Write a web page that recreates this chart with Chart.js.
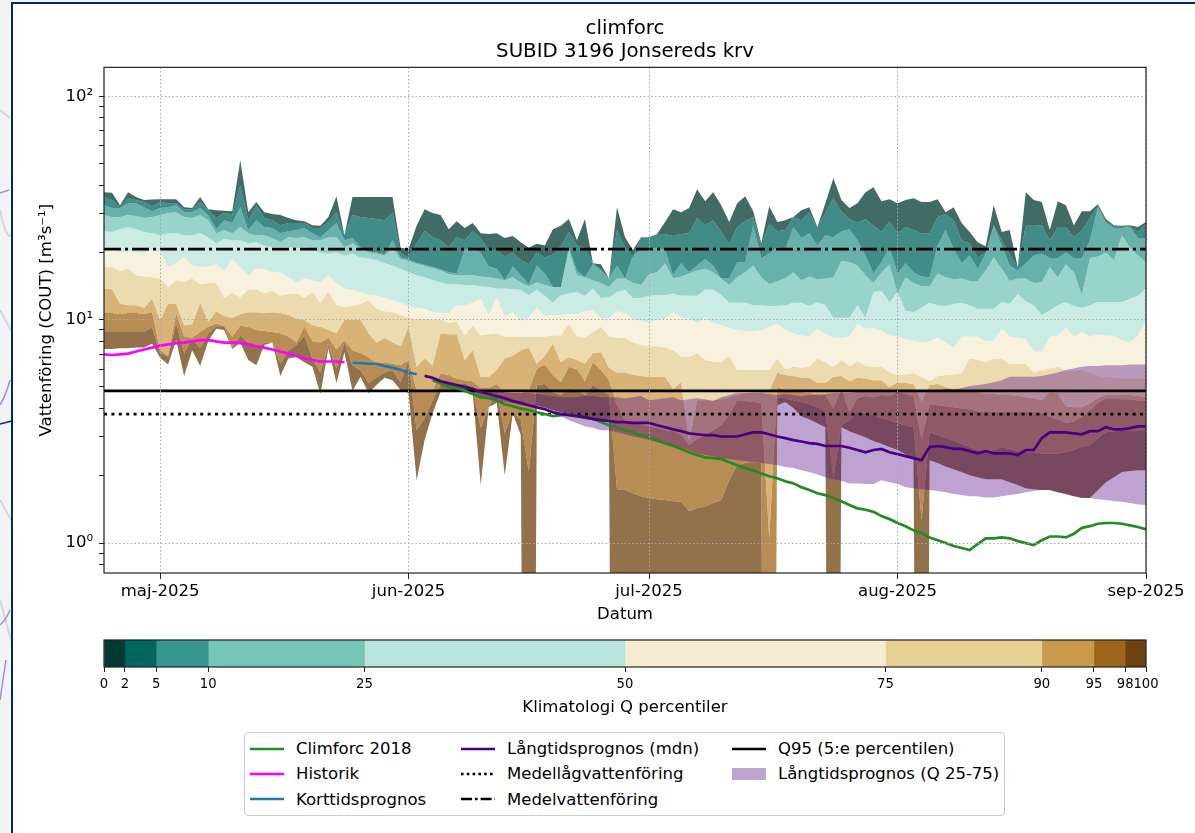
<!DOCTYPE html>
<html>
<head>
<meta charset="utf-8">
<title>climforc</title>
<script src="https://cdn.jsdelivr.net/npm/chart.js@4"></script>
<style>
html, body { margin: 0; padding: 0; background: #f1f3f5; width: 1195px; height: 833px; overflow: hidden; font-family: "DejaVu Sans", sans-serif; }
#page { position: absolute; left: 11px; top: 2px; width: 1184px; height: 831px; box-sizing: border-box; background: #fff; border-left: 2px solid #00296b; border-top: 2px solid #00296b; }
#strip { position: absolute; left: 0; top: 0; }
canvas { position: absolute; left: 0; }
#main { top: 0; }
#cbar { top: 625px; }
#legend { position: absolute; left: 244px; top: 732px; width: 761px; height: 84px; box-sizing: border-box; background: #fff; border: 1px solid #ccc; border-radius: 4px; padding: 3px 0 0 5px; display: grid; grid-template-columns: 211px 271px auto; grid-template-rows: repeat(3, 25.3px); grid-auto-flow: column; font-size: 16.5px; color: #000; }
#legend div { display: flex; align-items: center; white-space: nowrap; }
#legend svg { width: 36px; height: 12px; margin-right: 10px; flex: none; }
</style>
</head>
<body>
<svg id="strip" width="12" height="833">
  <path d="M0 424 L12 421" stroke="#00296b" stroke-width="1.5" fill="none"/>
  <path d="M0 110 L10 118 M0 210 Q6 240 11 235 M0 310 L11 330 M0 500 L11 520 M0 600 L11 640" stroke="#d4d7da" stroke-width="2" fill="none"/>
  <path d="M0 193 L9 190 M0 405 Q6 395 10 380 M0 625 Q6 620 10 610 M0 700 L6 660" stroke="#a98adb" stroke-width="1.5" fill="none"/>
</svg>
<div id="page"></div>
<canvas id="main" width="1195" height="625"></canvas>
<canvas id="cbar" width="1195" height="100"></canvas>
<div id="legend"></div>
<script>
// dagar raknas fran 24 april 2025 (dag 0) till 1 sep (dag 130)
const monthDays = [7, 38, 68, 99, 130];
const monthLabels = ['maj-2025', 'jun-2025', 'jul-2025', 'aug-2025', 'sep-2025'];
const yMajor = [1, 10, 100];
const yMajorLabels = ['10⁰', '10¹', '10²'];
const yTicks = [0.8, 0.9, 1, 2, 3, 4, 5, 6, 7, 8, 9, 10, 20, 30, 40, 50, 60, 70, 80, 90, 100];

// klimatologi percentiler, 0 = ingen avrinning den dagen
const p0 = [
  37.2,37,32.5,37.2,35.4,34.3,34.5,34.6,34.6,34.6,
  31.9,31.6,35.4,31.2,30.9,30.7,30.6,51.7,30.3,33.6,
  30.3,29.7,29.4,28.5,27.9,27.6,26.5,26.3,28.8,35.7,
  23.9,35.4,35.4,35.4,35.4,35.4,35.4,21,20.7,26.3,
  31.2,30,29.4,25.4,27.6,25.7,27.1,24.4,24.2,24.4,
  23.2,23.7,22.2,21,21.9,21.5,25.4,26.3,28.2,22.7,
  28.2,17.9,17.7,15.3,31.9,23.4,20.5,23.4,23.4,24.2,
  27.4,31.2,30.3,31.6,38.4,33.9,37.2,32.5,27.4,33.2,
  35.7,30.6,22,32.2,27.4,27.9,28.8,30.9,31.9,26,
  33.2,43,34.3,31.6,33.2,37.2,39.2,33.9,34.6,33.2,
  34.3,35,33.6,33.6,34.6,30.3,31.9,27.1,24.7,22.2,
  21.3,32.5,24.7,25.2,17.2,37.2,34.3,33.6,25.2,33.9,
  32.5,26.5,30.6,30.6,32.9,28.2,26.5,26.3,26.5,26,27.4];
const p2 = [
  35.4,34.3,31.9,35,34.3,33.6,32.2,33.6,33.2,33.2,
  31.2,31.2,33.6,30.9,28.5,30,29.4,40,27.9,32.5,
  28.5,27.9,26.5,27.1,27.1,27.1,25.7,25.7,27.4,30.3,
  23.9,29.4,28.8,28.5,28.2,27.9,30,19.9,19,22,
  25,23.4,22.7,21.1,23.4,22.7,24.9,23.2,20.5,20.5,
  19.2,20,18.5,17.7,20,19,19.6,21.3,24.7,21.5,
  21,17.9,16.8,15.3,25.2,21.1,19.2,23.2,23.4,24.2,
  24.2,23.7,24.2,24.4,28.5,26.5,27.9,24.7,21.8,26,
  27.6,28.8,21.5,26.8,24.9,25.2,28.8,27.9,30.3,25.7,
  30,35,30.6,28.2,27.1,28.2,26.3,24.7,27.6,24.4,
  26,25.2,24.4,24.4,28.8,29.7,27.9,22.7,22,19,
  20,26.5,22.7,19.6,17.2,26.3,26.3,26.5,22.7,26,
  26,23.4,25.2,28.5,32.2,27.6,26.3,26,26.3,24.7,26.8];
const p5 = [
  32.5,31.6,31.6,33.2,33.2,31.9,30.6,31.6,31.9,32.5,
  30.3,30.3,31.6,29.4,25.4,27.9,27.1,31.9,25.2,27.9,
  26,25.7,24.4,24.9,25.2,25.7,24.4,23.4,25.2,27.1,
  22.7,23.2,21.1,20.2,20,19.6,22.7,19,18.6,18,
  17.6,17.2,16.8,16.3,16.1,20.5,21,20,17.3,16.9,
  15,17.3,15.8,14.4,17.5,16.1,14,14,21.1,16.6,
  15.5,17.7,16.6,15.3,17.5,15.3,19.4,20.5,20.7,21,
  20.5,15.8,17.9,16.3,17.5,18.7,17.5,15.3,15.3,18.1,
  18.1,26.5,18.9,19.8,21.1,20.5,26,23.2,24.4,21.5,
  23.9,23.4,24.9,25.4,22.7,19.4,16.1,18.1,21.1,16.1,
  17.9,16.3,15.6,15.5,21.5,25.2,20.7,17.9,19.4,16.9,
  19.8,26.3,21.5,17.5,16.6,17.9,19.4,19.8,18.9,18.9,
  20,18.9,18.9,22.7,31.9,27.1,25.7,25.7,26,23.2,23.2];
const p10 = [
  29.4,28.8,28.8,29.4,29.1,28.5,28.8,29.4,30,30.3,
  28.8,28.5,29.4,27.9,24.4,25.2,24.4,26,24.4,23.9,
  23.9,23.2,22.2,23.4,23.2,23.4,22.7,22.7,23.4,23.4,
  21.1,22,20.8,20,19.8,19.4,20.9,18.7,18.3,17.8,
  17.4,17,16.6,16,15.8,15.8,15.8,15.6,15.5,15.3,
  15,15.5,14.7,14.1,14.7,14.3,14,14,20.5,15.8,
  15.5,15,14.6,14,15.3,15.3,14.6,14.3,16,16.3,
  17.9,15.3,15.6,16.1,16.6,16.9,16.3,15.3,14.3,15.5,
  16.3,17.5,15.5,14.4,14.9,15.3,16.3,15,15.6,15.2,
  15.3,15.5,18.3,18.1,17.5,15.8,14.6,16.3,17.7,13.1,
  15.5,14.6,14.1,14.1,16.1,15.5,15.2,15.3,14.9,14.9,
  16.6,19,16.9,14.9,15.3,15.3,14.6,14.7,17.2,15.5,
  17.7,16.3,12.9,18.9,19.2,20,18.5,23.9,21,19.4,18.1];
const p25 = [
  24.9,24.7,25.4,26,25.4,24.7,24.4,23.9,24.4,24.4,
  23.9,23.9,24.4,23.4,22,23,22.7,22.7,22,22.2,
  21.5,21.1,21.1,21.1,20.9,21.1,20.5,20,19.8,20,
  19.4,19.8,19,18.8,18.5,17.9,17.5,16.9,16.3,15.8,
  15.5,15,14.7,14.4,14.4,14.3,14.3,14.1,14,13.8,
  13.8,13.7,13.6,12.9,13.6,12.8,11.9,12.9,13.1,13.3,
  12.8,13.8,12.5,12.6,13.3,13.6,12.5,12.5,12.8,12.9,
  12.9,13.1,12.8,12.8,12.8,13.6,13.6,12.9,11.9,11.9,
  11.9,11.6,11.6,11.5,11.5,11.6,11.9,11.9,11.5,12,
  11.6,10.2,10.2,10.2,11.6,10.2,13.3,13.4,12,13.3,
  11,10.8,11.3,11.9,11.6,11.5,11.8,11.9,11.6,11.2,
  11.2,11.2,12,11.8,13,12.1,11.6,10.5,11,11.6,
  12,11.5,11.3,11.6,12,12,12,12,12.4,12.8,13.8];
const p50 = [
  20.5,21,20,20.2,20,19.8,20.5,20.2,17.3,17.9,
  19.2,17.5,17.2,17.3,17.7,16.5,18.7,17.2,15.8,16.9,
  16.9,16.3,16.3,15.5,14.7,15.3,15,14.7,15.8,14.6,
  13.8,13.6,13.3,12.9,12.8,12.5,12.2,11.9,11.5,11.3,
  11.2,10.8,10.7,10.7,11.6,11.6,11.9,12.5,10.5,12.6,
  10.4,10.8,9.9,10.2,11.3,10.4,10.5,10.5,10.6,10.6,
  10.9,11,10.2,10.1,10.9,10.7,10.1,9.9,9.7,10,
  10.1,10.8,10.2,10.1,9.7,10.2,9.7,9.45,9.2,9,
  8.9,8.9,9,9.3,9.6,9,8.7,8.5,8.4,9.1,
  8.6,8.3,8.3,8.4,9.6,9.1,9.2,8.9,8.5,8.4,
  8.2,8,7.9,8,8.3,7.9,7.5,8.4,8.4,8.4,
  8,8.1,9.1,8.4,8.3,8.2,7.2,7.2,8.4,8.5,
  9.2,8.4,8.8,8.4,8.6,8.5,8.5,8.1,7.9,8.5,10];
const p75 = [
  17.3,17.2,16.5,16.9,15.8,15.6,15.5,15.3,14,15,
  14.7,15.3,14.4,14.6,14.6,12.5,13.2,12.6,13.6,13.7,
  13.1,13.5,12.8,13,13.1,12.6,13.3,11.9,13.4,11.6,
  11.4,11.5,11.8,12.2,11.2,10.9,10.8,10.5,10.2,10.1,
  10.1,10,10,9.7,9.8,8.5,9.45,8.5,8.6,8.7,
  8.4,8.4,8.4,8.4,8.4,8.4,8.5,8.5,9.6,8.4,
  8.3,8.8,9.3,8.4,8.3,8.3,7.9,7.7,7.6,7.6,
  7.5,7.3,6.85,6.8,7.1,6.6,6.5,6.45,6.9,5.95,
  5.95,5.95,5.95,5.95,6.7,6,6.15,6.1,6.15,6.7,
  6.45,6.15,6.6,6.2,6.5,6.2,6.15,6.15,5.8,5.65,
  5.7,5.75,5.55,5.3,5.6,5.65,5.7,5.75,6.7,6.6,
  6.45,6.7,6.7,6.35,6.35,6.35,5.8,5.95,6.05,6.15,
  5.9,5.9,5.95,5.8,5.6,5.55,5.5,5.45,5.45,5.45,5.45];
const p90 = [
  13.8,13.7,11.8,11.6,11.6,11.3,12.4,10,11.8,11.8,
  9.45,9.55,11.9,9.8,10.9,10.4,10.2,10.6,10.8,10.8,
  10.7,10.8,10.7,10.5,10.1,10,9.45,9.3,9,8.7,
  10,10,10,8.7,7.9,8.3,7.9,7.6,9.3,6.15,
  6.7,6.25,8.7,8.6,8.6,6.6,7.3,5.55,5.55,5.95,
  6.7,6.9,7.3,7.5,6.35,6.9,7.8,6.45,6.8,6.6,
  6.35,7.1,7.15,6.1,5.8,5.8,5.65,5.6,5.55,5.55,
  5.55,4.9,5.25,2.85,4.36,4.36,4.36,4.4,4.5,4.6,
  4.7,4.75,4.75,4.8,5.8,5.65,5.6,5.5,5.5,5.2,
  5.2,5.55,5.6,5.3,5.5,5.45,5.36,5.36,5,5.25,
  5.2,5.15,4.3,5.1,5.15,5,4.9,4.84,4.8,4.75,
  4.65,4.65,4.6,4.6,4.55,4.5,4.45,4.36,4.75,4.7,
  4.1,4.05,4.05,4.22,4.45,4.6,4.6,4.6,4.6,4.55,4.5];
const p95 = [
  10.7,10.7,10.6,10.7,10.7,10.6,10.8,7.3,6.9,10.7,
  8.4,8.3,8.8,9.3,9.6,9.4,8.4,9.4,9.3,9,
  8.9,8.8,8.7,8.4,7.9,9.35,8,7.9,8.3,7.35,
  8.1,7.3,7.1,6.8,6.35,6.45,6.35,6.25,6.6,4.84,
  4.84,4.84,5.75,5.65,5.45,5.36,5.3,4.95,4.95,5.15,
  4.7,4.7,4.7,4.84,6.05,6.3,5.65,5.25,6.15,6,
  5.3,6.45,5.95,5.36,4.14,3.55,3.47,3.4,3.33,3.27,
  3.2,3.17,3.07,2.74,2.92,3.04,3.2,3.37,3.74,4.36,
  4.32,4.28,4.24,1.05,5,4.84,4.8,4.75,4.7,4.65,
  4.6,4,4.95,3.85,4.45,4.55,4.5,4.6,4.55,4.75,
  4.65,4.55,2.89,4.18,4.14,4.1,4.05,4,3.97,3.88,
  3.88,3.88,3.88,3.88,3.88,3.88,3.85,3.8,3.68,3.58,
  3.45,3.5,3.68,3.94,4.24,4.45,4.45,4.4,4.4,4.36,4.36];
const p98 = [
  8.8,8.8,8.8,8.8,8.8,8.8,9.25,7.1,6.85,9.7,
  7.1,8.2,7.45,8.7,9.35,9.35,7.5,8.5,7.9,7.5,
  7.9,7.9,6.35,7.3,7.7,8.5,6.7,5.8,7.7,6.05,
  7.9,6.25,5.95,5.2,5.5,5.8,5.95,5.25,6.6,3.2,
  3.63,4.36,5.15,5.25,5.1,5.2,4.95,3.27,4.05,4.84,
  3.1,3.88,3.55,2.08,5.1,5.15,4.75,4.6,4.95,4.84,
  4.6,5.1,4.84,4.6,1.74,1.73,1.67,1.62,1.59,1.57,
  1.56,1.54,1.53,1.39,1.43,1.46,1.51,1.56,1.91,2.23,
  2.28,2.28,2.28,0,4.5,4.45,4.36,4.28,4.18,4.05,
  3.88,1.95,3.37,3.55,3.88,3.8,3.74,3.62,3.55,3.44,
  3.37,3.3,1.27,3.13,3.04,2.95,2.86,2.78,2.69,2.61,
  2.55,2.61,2.69,2.64,2.58,2.55,2.55,2.52,2.52,2.52,
  2.55,2.61,2.69,2.74,2.95,3.13,3.16,3.2,3.2,3.2,3.2];
const p100 = [
  7.4,7.4,7.45,7.45,7.5,7.5,7.8,6.75,6.3,8.1,
  5.6,7.3,6.2,8,9.1,9,7.4,7.9,6.6,6.25,
  7.7,7.9,5.6,6.7,6.8,6.45,6.15,4.65,7.45,5.2,
  7.15,4.8,5.55,4.7,5.1,5.5,5.36,4.84,4.7,1.91,
  2.89,3.82,4.75,4.8,4.8,4.75,4.7,1.82,4.05,4.25,
  2.01,3.82,3.04,0,4.14,4.04,3.94,3.85,3.78,3.7,
  3.63,3.55,3.52,3.48,0,0,0,0,0,0,
  0,0,0,0,0,0,0,0,0,0,
  0,0,0,0,4.14,4.28,4.02,3.7,3.58,3.44,
  3.3,0,3.3,3.17,3.07,2.98,2.86,2.78,2.69,2.61,
  2.5,2.4,0,2.35,2.28,2.2,2.14,2.08,2.01,1.97,
  1.93,1.93,1.93,1.87,1.82,1.76,1.74,1.73,1.73,1.69,
  1.66,1.62,1.59,1.59,1.73,1.87,1.97,2.08,2.1,2.12,2.12];

// prognoser, startdag i egen konstant
const progStart = 40;
const progQ25 = [
  5.6,5.5,5.36,5.2,5.1,5,4.95,4.84,4.8,4.75,
  4.75,4.7,4.7,4.7,4.65,4.6,4.55,4.5,4.5,4.5,
  4.55,4.55,4.5,4.5,4.5,4.45,4.5,4.55,4.36,4.4,
  4.45,4.5,4.36,4.4,4.45,4.4,4.32,4.5,4.6,4.7,
  4.7,4.7,4.7,4.65,4.6,4.65,4.6,4.55,4.6,4.6,
  4.65,4.7,4.7,4.7,4.75,4.75,4.75,4.8,4.8,4.8,
  4.84,4.84,4.84,4.84,4.84,4.9,4.9,4.95,5.05,5.1,
  5.15,5.25,5.36,5.55,5.55,5.55,5.55,5.6,5.7,5.8,
  5.95,6.05,6.15,6.2,6.2,6.25,6.25,6.25,6.3,6.3,6.3];
const progQ75 = [
  5.6,5.36,5.2,5,4.9,4.75,4.65,4.55,4.45,4.36,
  4.28,4.24,4.14,4.1,4.05,3.94,3.82,3.7,3.55,3.44,
  3.33,3.27,3.2,3.2,3.13,3.07,3,2.95,2.89,2.83,
  2.78,2.72,2.67,2.61,2.52,2.48,2.45,2.4,2.38,2.35,
  2.33,2.3,2.28,2.26,2.23,2.19,2.17,2.12,2.08,2.03,
  1.97,1.93,1.9,1.85,1.85,1.84,1.84,1.91,1.87,1.84,
  1.78,1.76,1.74,1.73,1.71,1.69,1.66,1.64,1.62,1.62,
  1.6,1.6,1.62,1.64,1.66,1.69,1.71,1.73,1.73,1.69,
  1.66,1.62,1.6,1.59,1.57,1.56,1.54,1.53,1.51,1.49,1.48];
const progMdn = [
  5.6,5.5,5.3,5.2,5.1,5,4.9,4.75,4.65,4.55,
  4.45,4.32,4.24,4.14,4.05,3.97,3.85,3.78,3.74,3.7,
  3.66,3.6,3.55,3.52,3.48,3.48,3.45,3.45,3.45,3.37,
  3.3,3.23,3.17,3.1,3.07,3.04,3.04,3,3,3,
  3.07,3.13,3.13,3.07,3,2.95,2.89,2.85,2.8,2.78,
  2.72,2.72,2.72,2.67,2.61,2.55,2.61,2.64,2.55,2.5,
  2.45,2.4,2.35,2.69,2.72,2.69,2.64,2.64,2.58,2.52,
  2.58,2.52,2.52,2.52,2.48,2.61,2.61,2.95,3.13,3.13,
  3.13,3.1,3.07,3.17,3.17,3.3,3.23,3.23,3.27,3.33,3.33];
const climStart = 41;
const climforc = [
  5.36,5.2,5,4.95,4.8,4.65,4.5,4.45,4.36,
  4.18,4.1,4,3.94,3.85,3.78,3.7,3.74,3.78,3.7,
  3.63,3.6,3.48,3.37,3.3,3.2,3.13,3.04,2.98,2.89,
  2.8,2.72,2.64,2.55,2.48,2.42,2.4,2.38,2.3,2.23,
  2.17,2.12,2.05,1.99,1.95,1.89,1.85,1.78,1.73,1.67,
  1.64,1.59,1.54,1.48,1.43,1.41,1.38,1.32,1.28,1.23,
  1.19,1.14,1.11,1.06,1.03,1,0.97,0.95,0.93,0.99,
  1.05,1.05,1.06,1.05,1.02,1,0.98,1.03,1.07,1.07,
  1.06,1.1,1.17,1.19,1.22,1.23,1.23,1.22,1.2,1.18,1.15];
const historik = [
  7,6.95,7,7.05,7.2,7.35,7.5,7.65,7.75,7.85,
  7.9,8,8.1,8.1,8,7.9,7.9,7.85,7.75,7.6,
  7.5,7.35,7.2,7.05,6.9,6.7,6.6,6.5,6.5,6.5,6.45];
const kortStart = 31;
const korttid = [6.4,6.4,6.35,6.35,6.2,6.1,5.95,5.8,5.7];

const medelQ = 20.7;
const q95 = 4.8;
const medelLagQ = 3.78;

const percentileTicks = [0, 2, 5, 10, 25, 50, 75, 90, 95, 98, 100];
const percentileLines = [p0, p2, p5, p10, p25, p50, p75, p90, p95, p98, p100];
const bandColors = ['#013a32', '#01665e', '#35978f', '#76c5b9', '#b8e5dc', '#f6ecd3', '#e6cf93', '#c99a4a', '#a0651c', '#6e420f'];
const BAND_ALPHA = 0.75;

const legendLabels = ['Climforc 2018', 'Historik', 'Korttidsprognos', 'Långtidsprognos (mdn)', 'Medellågvattenföring', 'Medelvattenföring', 'Q95 (5:e percentilen)', 'Långtidsprognos (Q 25-75)'];

Chart.defaults.font.family = '"DejaVu Sans", sans-serif';
Chart.defaults.color = '#000';
Chart.defaults.animation = false;

// noll gar inte pa log-axel, sa de dagarna laggs langt under axeln
function toPoints(values, start) {
  return values.map((v, i) => ({ x: start + i, y: v === 0 ? 1e-6 : v }));
}

function withAlpha(hex, a) {
  const n = parseInt(hex.slice(1), 16);
  return `rgba(${n >> 16}, ${(n >> 8) & 255}, ${n & 255}, ${a})`;
}

function flatLine(value) {
  return [{ x: 0, y: value }, { x: 130, y: value }];
}

function line(data, color, order, dash) {
  return { data: data, borderColor: color, borderWidth: 2.7, borderDash: dash || [], pointRadius: 0, fill: false, tension: 0, order: order, borderCapStyle: 'butt' };
}

const frame = {
  id: 'frame',
  afterDraw(chart) {
    const a = chart.chartArea, c = chart.ctx;
    c.save();
    c.strokeStyle = '#222';
    c.lineWidth = 1.2;
    c.strokeRect(a.left, a.top, a.width, a.height);
    c.restore();
  }
};

const datasets = [];
datasets.push(line(toPoints(progMdn, progStart), '#4b0082', 1));
datasets.push(line(toPoints(climforc, climStart), '#228b22', 2));
datasets.push(line(toPoints(historik, 0), '#ff00ff', 2));
datasets.push(line(toPoints(korttid, kortStart), '#1f77b4', 2));
datasets.push(line(flatLine(q95), '#000', 3));
datasets.push(line(flatLine(medelLagQ), '#000', 3, [3, 4.4]));
datasets.push(line(flatLine(medelQ), '#000', 3, [17, 4, 3, 4]));

datasets.push({ data: toPoints(progQ25, progStart), borderWidth: 0, pointRadius: 0, fill: '+1', backgroundColor: 'rgba(75, 0, 130, 0.36)', order: 5 });
datasets.push({ data: toPoints(progQ75, progStart), borderWidth: 0, pointRadius: 0, fill: false, order: 5 });

percentileLines.forEach((values, i) => {
  const isLast = i === percentileLines.length - 1;
  datasets.push({
    data: toPoints(values, 0),
    borderWidth: 0,
    pointRadius: 0,
    tension: 0,
    fill: isLast ? false : '+1',
    backgroundColor: isLast ? 'transparent' : withAlpha(bandColors[i], BAND_ALPHA),
    order: 10
  });
});

new Chart(document.getElementById('main'), {
  type: 'line',
  data: { datasets: datasets },
  plugins: [frame],
  options: {
    responsive: false,
    layout: { padding: { left: 28, right: 49, top: 0, bottom: 0 } },
    plugins: {
      legend: { display: false },
      tooltip: { enabled: false },
      title: {
        display: true,
        text: ['climforc', 'SUBID 3196 Jonsereds krv'],
        font: { size: 19.8, weight: 'normal', lineHeight: 1.17 },
        fullSize: false,
        padding: { top: 17, bottom: 4 }
      }
    },
    scales: {
      x: {
        type: 'linear',
        min: 0,
        max: 130,
        title: { display: true, text: 'Datum', font: { size: 16.5 }, padding: { top: 2, bottom: 0 } },
        border: { display: false, dash: [1.6, 2.2] },
        grid: { z: 1, color: '#aaa', lineWidth: 1, tickColor: '#222', tickLength: 6 },
        ticks: { autoSkip: false, maxRotation: 0, font: { size: 16.5 }, padding: 3, callback: v => monthLabels[monthDays.indexOf(v)] },
        afterBuildTicks(scale) { scale.ticks = monthDays.map(d => ({ value: d, major: true })); },
        afterFit(scale) { scale.height = 52; }
      },
      y: {
        type: 'logarithmic',
        bounds: 'data',
        min: 0.7345,
        max: 134.8,
        title: { display: true, text: 'Vattenföring (COUT) [m³s⁻¹]', font: { size: 16.6 }, padding: { top: 9, bottom: 0 } },
        border: { display: false, dash: [1.6, 2.2] },
        grid: {
          z: 1,
          color: ctx => (ctx.tick && yMajor.includes(ctx.tick.value)) ? '#aaa' : 'rgba(0,0,0,0)',
          lineWidth: 1,
          tickColor: '#222',
          tickLength: 5
        },
        ticks: {
          autoSkip: false,
          font: { size: 16.5 },
          padding: 6,
          callback: v => { const i = yMajor.indexOf(v); return i < 0 ? '' : yMajorLabels[i]; }
        },
        afterBuildTicks(scale) { scale.ticks = yTicks.map(v => ({ value: v, major: yMajor.includes(v) })); },
        afterFit(scale) { scale.width = 76; }
      }
    }
  }
});

// fargskalan under diagrammet
const cbarDatasets = bandColors.map((color, i) => ({
  data: [percentileTicks[i + 1] - percentileTicks[i]],
  backgroundColor: color,
  borderWidth: 0,
  barPercentage: 1,
  categoryPercentage: 1
}));

new Chart(document.getElementById('cbar'), {
  type: 'bar',
  data: { labels: ['Q'], datasets: cbarDatasets },
  plugins: [frame],
  options: {
    responsive: false,
    indexAxis: 'y',
    layout: { padding: { left: 104, right: 49, top: 15, bottom: 5 } },
    plugins: { legend: { display: false }, tooltip: { enabled: false } },
    scales: {
      x: {
        type: 'linear',
        stacked: true,
        min: 0,
        max: 100,
        title: { display: true, text: 'Klimatologi Q percentiler', font: { size: 16.5 }, padding: { top: 3, bottom: 2 } },
        border: { display: false },
        grid: { drawOnChartArea: false, tickColor: '#222', tickLength: 5 },
        ticks: { autoSkip: false, maxRotation: 0, font: { size: 13.2 }, padding: 5, callback: v => String(v) },
        afterBuildTicks(scale) { scale.ticks = percentileTicks.map(v => ({ value: v })); },
        afterFit(scale) { scale.height = 53; }
      },
      y: { display: false, stacked: true }
    }
  }
});

// forklaring i tre kolumner
const legendStyles = [
  { color: '#228b22' }, { color: '#ff00ff' }, { color: '#1f77b4' }, { color: '#4b0082' },
  { color: '#000', dash: '2.6 3.2' }, { color: '#000', dash: '11 3 2.6 3' }, { color: '#000' }, { patch: '#bea3d2' }
];
const legendEl = document.getElementById('legend');
legendLabels.forEach((label, i) => {
  const s = legendStyles[i];
  const item = document.createElement('div');
  const mark = s.patch
    ? `<rect x="0" y="0" width="34" height="12" fill="${s.patch}"/>`
    : `<line x1="0" y1="6" x2="34" y2="6" stroke="${s.color}" stroke-width="2.6" ${s.dash ? `stroke-dasharray="${s.dash}"` : ''}/>`;
  item.innerHTML = `<svg viewBox="0 0 36 12">${mark}</svg><span>${label}</span>`;
  legendEl.appendChild(item);
});
</script>
</body>
</html>
